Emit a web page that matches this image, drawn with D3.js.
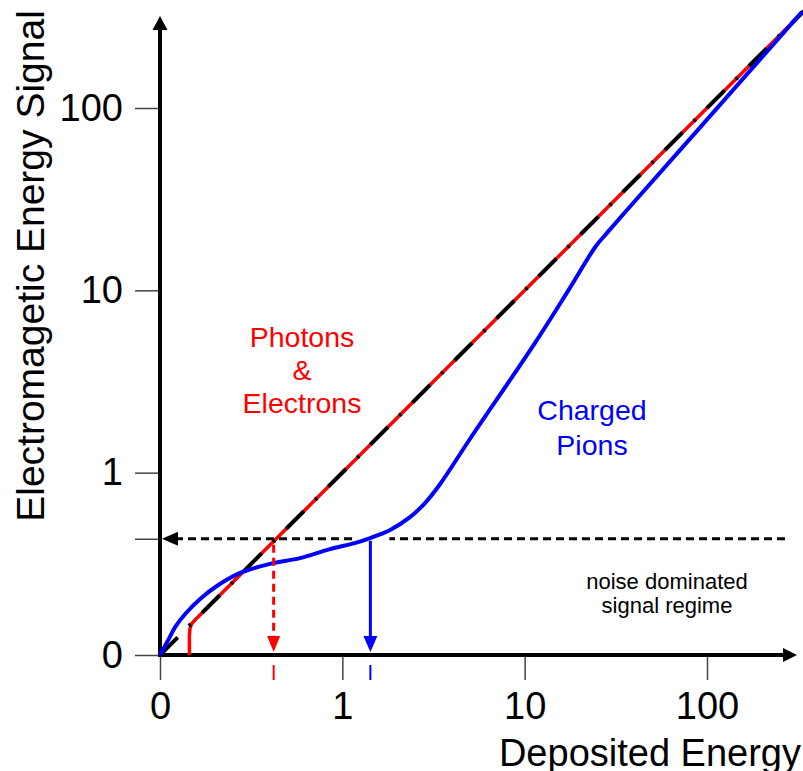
<!DOCTYPE html>
<html>
<head>
<meta charset="utf-8">
<script src="https://cdn.jsdelivr.net/npm/d3@7"></script>
<style>
  body { margin: 0; background: #fff; }
  svg { display: block; font-family: "Liberation Sans", Arial, sans-serif; }
</style>
</head>
<body>
<div id="chart-container"></div>
<script>
// tick values (the "0" label sits at the bottom of the log range)
const tickValues = [0.1, 1, 10, 100];
const tickLabels = ["0", "1", "10", "100"];

// ideal response y = x
const idealLine = [[0.1, 0.1], [340, 340]];

// photons & electrons: zero below threshold, then follows y = x
const photonCurve = [
  [0.145, 0.1], [0.145, 0.128], [0.146, 0.140], [0.149, 0.148],
  [0.156, 0.156], [0.17, 0.17], [340, 340]
];

// charged pions
const pionCurve = [
  [0.1, 0.1], [0.111, 0.121], [0.122, 0.144], [0.139, 0.170],
  [0.166, 0.203], [0.205, 0.239], [0.275, 0.282], [0.401, 0.316],
  [0.586, 0.340], [0.855, 0.381], [1.17, 0.411], [1.42, 0.438],
  [1.83, 0.485], [2.35, 0.570], [2.84, 0.681], [3.44, 0.867],
  [5.01, 1.53], [11.4, 5.15], [17.3, 9.93], [24.6, 17.5],
  [28.0, 20.4], [35.6, 26.9], [91.7, 78.3], [332, 337]
];

// noise threshold and where each curve crosses it
const noiseLevel = 0.434;
const photonCross = 0.42;
const pionCross = 1.425;
const dashGap = [1.13, 1.81]; // break in the horizontal dashed line

const W = 803, H = 771;

const svg = d3.select("#chart-container")
  .append("svg")
  .attr("width", W)
  .attr("height", H);

const x = d3.scaleLog().domain([0.1, 100]).range([160, 707]);
const y = d3.scaleLog().domain([0.1, 100]).range([655, 108]);

const fmt = d => tickLabels[tickValues.indexOf(d)];

// X axis ticks
const gx = svg.append("g")
  .attr("transform", `translate(0,${y(0.1)})`)
  .call(d3.axisBottom(x).tickValues(tickValues).tickFormat(fmt).tickSize(25).tickPadding(12));
gx.select(".domain").remove();
gx.selectAll(".tick line").attr("stroke", "#444").attr("stroke-width", 1.5);
gx.selectAll(".tick text").attr("font-size", 38).attr("font-family", "Liberation Sans, Arial").attr("fill", "#000");

// Y axis ticks (plus the unlabeled noise level tick)
const gy = svg.append("g")
  .attr("transform", `translate(${x(0.1)},0)`)
  .call(d3.axisLeft(y).tickValues(tickValues.concat([noiseLevel]))
    .tickFormat(d => tickValues.includes(d) ? fmt(d) : "").tickSize(25).tickPadding(12));
gy.select(".domain").remove();
gy.selectAll(".tick line").attr("stroke", "#444").attr("stroke-width", 1.5);
gy.selectAll(".tick text").attr("font-size", 38).attr("font-family", "Liberation Sans, Arial").attr("fill", "#000");

// Axis lines with arrow heads
const x0 = x(0.1), y0 = y(0.1);
svg.append("line").attr("x1", x0).attr("y1", y0).attr("x2", 785).attr("y2", y0)
  .attr("stroke", "#000").attr("stroke-width", 4);
svg.append("path").attr("d", `M797,${y0} L783,${y0 - 7} L783,${y0 + 7} Z`).attr("fill", "#000");
svg.append("line").attr("x1", x0).attr("y1", y0 + 2).attr("x2", x0).attr("y2", 28)
  .attr("stroke", "#000").attr("stroke-width", 4);
svg.append("path").attr("d", `M${x0},16 L${x0 - 7.5},30 L${x0 + 7.5},30 Z`).attr("fill", "#000");

// Axis labels
svg.append("text")
  .attr("x", 801).attr("y", 766)
  .attr("text-anchor", "end")
  .attr("font-size", 38)
  .text("Deposited Energy");

svg.append("text")
  .attr("transform", "rotate(-90)")
  .attr("x", -266).attr("y", 44)
  .attr("text-anchor", "middle")
  .attr("font-size", 39)
  .text("Electromagetic Energy Signal");

const line = d3.line().x(d => x(d[0])).y(d => y(d[1]));
const smooth = d3.line().x(d => x(d[0])).y(d => y(d[1])).curve(d3.curveCatmullRom.alpha(0.5));

// Red photon/electron response
svg.append("path")
  .datum(photonCurve)
  .attr("fill", "none")
  .attr("stroke", "red")
  .attr("stroke-width", 3.5)
  .attr("d", line);

// Black dash-dot ideal line
svg.append("path")
  .datum(idealLine)
  .attr("fill", "none")
  .attr("stroke", "#000")
  .attr("stroke-width", 4)
  .attr("stroke-dasharray", "25,16,2.5,16")
  .attr("d", line);

// Blue pion response
svg.append("path")
  .datum(pionCurve)
  .attr("fill", "none")
  .attr("stroke", "blue")
  .attr("stroke-width", 4)
  .attr("stroke-linejoin", "round")
  .attr("d", smooth);

// Horizontal dashed arrow at noise level
const yn = y(noiseLevel);
svg.append("line")
  .attr("x1", 785).attr("x2", x(dashGap[1])).attr("y1", yn).attr("y2", yn)
  .attr("stroke", "#000").attr("stroke-width", 3).attr("stroke-dasharray", "8,5");
svg.append("line")
  .attr("x1", x(dashGap[0])).attr("x2", 176).attr("y1", yn).attr("y2", yn)
  .attr("stroke", "#000").attr("stroke-width", 3).attr("stroke-dasharray", "8,5");
svg.append("path").attr("d", `M162,${yn} L178,${yn - 7} L178,${yn + 7} Z`).attr("fill", "#000");

// Red dashed arrow down
const xp = x(photonCross);
svg.append("line")
  .attr("x1", xp).attr("x2", xp).attr("y1", yn + 6).attr("y2", 637)
  .attr("stroke", "red").attr("stroke-width", 3).attr("stroke-dasharray", "8,5");
svg.append("path").attr("d", `M${xp},652 L${xp - 6.5},636 L${xp + 6.5},636 Z`).attr("fill", "red");
svg.append("line").attr("x1", xp).attr("x2", xp).attr("y1", 665).attr("y2", 680)
  .attr("stroke", "red").attr("stroke-width", 2);

// Blue solid arrow down
const xq = x(pionCross);
svg.append("line")
  .attr("x1", xq).attr("x2", xq).attr("y1", yn + 2).attr("y2", 638)
  .attr("stroke", "blue").attr("stroke-width", 3);
svg.append("path").attr("d", `M${xq},652 L${xq - 7},636 L${xq + 7},636 Z`).attr("fill", "blue");
svg.append("line").attr("x1", xq).attr("x2", xq).attr("y1", 665).attr("y2", 680)
  .attr("stroke", "blue").attr("stroke-width", 2);

// Annotations
const note = (lines, cx, y1, step, size, color) => {
  lines.forEach((t, i) => {
    svg.append("text")
      .attr("x", cx).attr("y", y1 + i * step)
      .attr("text-anchor", "middle")
      .attr("font-size", size)
      .attr("fill", color)
      .text(t);
  });
};
note(["Photons", "&", "Electrons"], 302, 347, 33, 28.5, "red");
note(["Charged", "Pions"], 592, 420, 35, 28.5, "blue");
note(["noise dominated", "signal regime"], 667, 589, 24, 22, "#000");
</script>
</body>
</html>
